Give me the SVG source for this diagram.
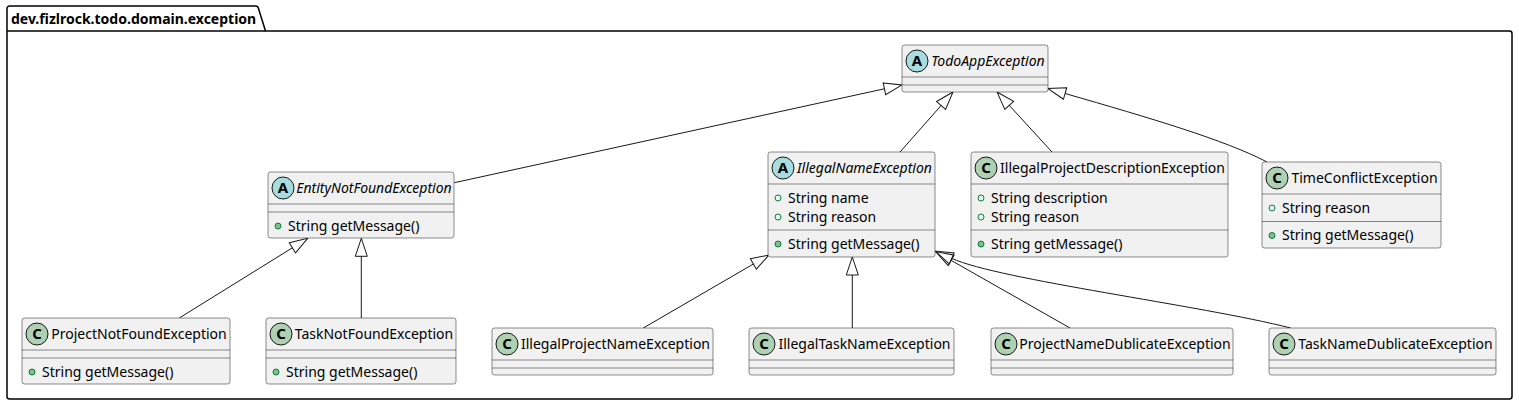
<svg xmlns="http://www.w3.org/2000/svg" width="1519" height="406" viewBox="0 0 1519 406">
<style>
text{font-family:"Noto Sans","DejaVu Sans",sans-serif;fill:#000}
.box{fill:#F1F1F1;stroke:#181818;stroke-width:0.5}
.div{stroke:#181818;stroke-width:0.5}
.nm{font-size:14px;text-anchor:middle}
.ab{font-style:italic}
.mb{font-size:14px}
.ca{fill:#A9DCDF;stroke:#181818;stroke-width:1}
.cc{fill:#ADD1B2;stroke:#181818;stroke-width:1}
.lt{font-size:15px;font-weight:bold;text-anchor:middle}
.fd{fill:none;stroke:#038048;stroke-width:1}
.md{fill:#84BE84;stroke:#038048;stroke-width:1}
.edge{fill:none;stroke:#181818;stroke-width:1;marker-end:url(#ext)}
</style>
<defs>
<marker id="ext" markerUnits="userSpaceOnUse" markerWidth="22" markerHeight="16" viewBox="-1 -8 22 16" refX="0" refY="0" orient="auto" overflow="visible"><path d="M0,-6 L18,0 L0,6 Z" fill="none" stroke="#181818" stroke-width="1"/></marker>
</defs>
<rect width="1519" height="406" fill="#FFFFFF"/>
<g id="package">
<path d="M9.5,6 L255.5,6 A3,3 0 0 1 258.5,8.5 L265.5,31 L1509.5,31 A2.5,2.5 0 0 1 1512,33.5 L1512,396.5 A2.5,2.5 0 0 1 1509.5,399 L9.5,399 A2.5,2.5 0 0 1 7,396.5 L7,8.5 A2.5,2.5 0 0 1 9.5,6 Z" fill="none" stroke="#000" stroke-width="1.5"/>
<line x1="7" y1="31" x2="265.5" y2="31" stroke="#000" stroke-width="1.5"/>
<text x="11" y="24" font-size="14" font-weight="bold">dev.fizlrock.todo.domain.exception</text>
</g>
<g id="connectors">
<path class="edge" d="M454.3,182.7 L884.4,88.8"/>
<path class="edge" d="M900,152 L941.1,105.5"/>
<path class="edge" d="M1052,152 L1009.2,105.3"/>
<path class="edge" d="M1267,162 C1225,140 1150,118 1065.1,93.5"/>
<path class="edge" d="M179.3,318 L292.4,247.8"/>
<path class="edge" d="M361.3,318 L361.3,256.3"/>
<path class="edge" d="M643.3,328 L753.4,264"/>
<path class="edge" d="M852.3,328 L852.3,275"/>
<path class="edge" d="M1070,328 L951.2,260.4"/>
<path class="edge" d="M1290.7,328 C1200,305 1000,280 951.7,258.4"/>
</g>
<g id="TodoAppException">
<rect class="box" x="902" y="45" width="146" height="47" rx="2.5"/>
<circle class="ca" cx="917" cy="61" r="11"/><text class="lt" x="917" y="66.4">A</text>
<text class="nm ab" x="988" y="66">TodoAppException</text>
<line class="div" x1="902" y1="77" x2="1048" y2="77"/>
<line class="div" x1="902" y1="85" x2="1048" y2="85"/>
</g>
<g id="EntityNotFoundException">
<rect class="box" x="268" y="172" width="186" height="66" rx="2.5"/>
<circle class="ca" cx="283" cy="188" r="11"/><text class="lt" x="283" y="193.4">A</text>
<text class="nm ab" x="374" y="193">EntityNotFoundException</text>
<line class="div" x1="268" y1="204" x2="454" y2="204"/>
<line class="div" x1="268" y1="212" x2="454" y2="212"/>
<circle class="md" cx="278" cy="226" r="3"/><text class="mb" x="288" y="230.5">String getMessage()</text>
</g>
<g id="IllegalNameException">
<rect class="box" x="768" y="152" width="167" height="105" rx="2.5"/>
<circle class="ca" cx="783" cy="168" r="11"/><text class="lt" x="783" y="173.4">A</text>
<text class="nm ab" x="864.5" y="173">IllegalNameException</text>
<line class="div" x1="768" y1="184" x2="935" y2="184"/>
<circle class="fd" cx="778" cy="198" r="3"/><text class="mb" x="788" y="202.5">String name</text>
<circle class="fd" cx="778" cy="217" r="3"/><text class="mb" x="788" y="221.5">String reason</text>
<line class="div" x1="768" y1="230" x2="935" y2="230"/>
<circle class="md" cx="778" cy="244" r="3"/><text class="mb" x="788" y="248.5">String getMessage()</text>
</g>
<g id="IllegalProjectDescriptionException">
<rect class="box" x="971" y="152" width="257" height="105" rx="2.5"/>
<circle class="cc" cx="986" cy="168" r="11"/><text class="lt" x="986" y="173.4">C</text>
<text class="nm" x="1112.5" y="173">IllegalProjectDescriptionException</text>
<line class="div" x1="971" y1="184" x2="1228" y2="184"/>
<circle class="fd" cx="981" cy="198" r="3"/><text class="mb" x="991" y="202.5">String description</text>
<circle class="fd" cx="981" cy="217" r="3"/><text class="mb" x="991" y="221.5">String reason</text>
<line class="div" x1="971" y1="230" x2="1228" y2="230"/>
<circle class="md" cx="981" cy="244" r="3"/><text class="mb" x="991" y="248.5">String getMessage()</text>
</g>
<g id="TimeConflictException">
<rect class="box" x="1262" y="162" width="179" height="86" rx="2.5"/>
<circle class="cc" cx="1277" cy="178" r="11"/><text class="lt" x="1277" y="183.4">C</text>
<text class="nm" x="1364.5" y="183">TimeConflictException</text>
<line class="div" x1="1262" y1="194" x2="1441" y2="194"/>
<circle class="fd" cx="1272" cy="208" r="3"/><text class="mb" x="1282" y="212.5">String reason</text>
<line class="div" x1="1262" y1="221.5" x2="1441" y2="221.5"/>
<circle class="md" cx="1272" cy="235.5" r="3"/><text class="mb" x="1282" y="240">String getMessage()</text>
</g>
<g id="ProjectNotFoundException">
<rect class="box" x="22" y="318" width="208" height="66" rx="2.5"/>
<circle class="cc" cx="37" cy="334" r="11"/><text class="lt" x="37" y="339.4">C</text>
<text class="nm" x="139" y="339">ProjectNotFoundException</text>
<line class="div" x1="22" y1="350" x2="230" y2="350"/>
<line class="div" x1="22" y1="358" x2="230" y2="358"/>
<circle class="md" cx="32" cy="372" r="3"/><text class="mb" x="42" y="376.5">String getMessage()</text>
</g>
<g id="TaskNotFoundException">
<rect class="box" x="266" y="318" width="190" height="66" rx="2.5"/>
<circle class="cc" cx="281" cy="334" r="11"/><text class="lt" x="281" y="339.4">C</text>
<text class="nm" x="374" y="339">TaskNotFoundException</text>
<line class="div" x1="266" y1="350" x2="456" y2="350"/>
<line class="div" x1="266" y1="358" x2="456" y2="358"/>
<circle class="md" cx="276" cy="372" r="3"/><text class="mb" x="286" y="376.5">String getMessage()</text>
</g>
<g id="IllegalProjectNameException">
<rect class="box" x="492" y="328" width="221" height="47" rx="2.5"/>
<circle class="cc" cx="507" cy="344" r="11"/><text class="lt" x="507" y="349.4">C</text>
<text class="nm" x="615.5" y="349">IllegalProjectNameException</text>
<line class="div" x1="492" y1="360" x2="713" y2="360"/>
<line class="div" x1="492" y1="368" x2="713" y2="368"/>
</g>
<g id="IllegalTaskNameException">
<rect class="box" x="749" y="328" width="205" height="47" rx="2.5"/>
<circle class="cc" cx="764" cy="344" r="11"/><text class="lt" x="764" y="349.4">C</text>
<text class="nm" x="864.5" y="349">IllegalTaskNameException</text>
<line class="div" x1="749" y1="360" x2="954" y2="360"/>
<line class="div" x1="749" y1="368" x2="954" y2="368"/>
</g>
<g id="ProjectNameDublicateException">
<rect class="box" x="991" y="328" width="242" height="47" rx="2.5"/>
<circle class="cc" cx="1006" cy="344" r="11"/><text class="lt" x="1006" y="349.4">C</text>
<text class="nm" x="1125" y="349">ProjectNameDublicateException</text>
<line class="div" x1="991" y1="360" x2="1233" y2="360"/>
<line class="div" x1="991" y1="368" x2="1233" y2="368"/>
</g>
<g id="TaskNameDublicateException">
<rect class="box" x="1269" y="328" width="227" height="47" rx="2.5"/>
<circle class="cc" cx="1284" cy="344" r="11"/><text class="lt" x="1284" y="349.4">C</text>
<text class="nm" x="1395.5" y="349">TaskNameDublicateException</text>
<line class="div" x1="1269" y1="360" x2="1496" y2="360"/>
<line class="div" x1="1269" y1="368" x2="1496" y2="368"/>
</g>
</svg>
